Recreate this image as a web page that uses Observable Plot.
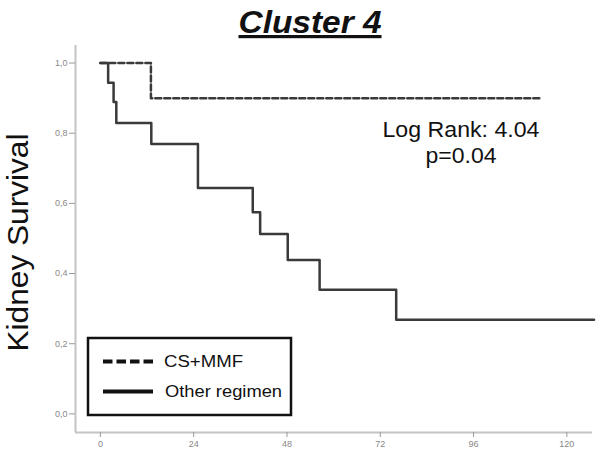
<!DOCTYPE html>
<html>
<head>
<meta charset="utf-8">
<script src="https://cdn.jsdelivr.net/npm/d3@7"></script>
<script src="https://cdn.jsdelivr.net/npm/@observablehq/plot@0.6"></script>
<style>
  body { margin: 0; background: #fff; font-family: "Liberation Sans", Arial, sans-serif; }
  #wrap { position: relative; width: 613px; height: 457px; }
  #overlay { position: absolute; left: 0; top: 0; pointer-events: none; }
</style>
</head>
<body>
<div id="wrap"></div>
<script>
// ---- Data ----
const titleText = "Cluster 4";
const yLabel = "Kidney Survival";
const seriesNames = ["CS+MMF", "Other regimen"];
const csMmfTime = [0, 13, 113];
const csMmfSurv = [1.0, 0.9, 0.9];
const otherTime = [0, 2, 3.4, 4.1, 13.1, 25.1, 39.2, 41.1, 48.2, 56.4, 76.1, 127];
const otherSurv = [1.0, 0.944, 0.889, 0.829, 0.769, 0.644, 0.575, 0.513, 0.439, 0.354, 0.268, 0.268];
const xTicks = [0, 24, 48, 72, 96, 120];
const yTicks = [0, 0.2, 0.4, 0.6, 0.8, 1.0];
const annotation = ["Log Rank: 4.04", "p=0.04"];
const xDomain = [-6.4, 126.6];
const yDomain = [-0.053, 1.05];

const csRows = csMmfTime.map((t, i) => ({t, s: csMmfSurv[i]}));
const otherRows = otherTime.map((t, i) => ({t, s: otherSurv[i]}));

const plot = Plot.plot({
  width: 613,
  height: 457,
  marginLeft: 75,
  marginRight: 21,
  marginTop: 45,
  marginBottom: 25,
  style: {fontFamily: "'Liberation Sans', Arial, sans-serif", background: "#fff"},
  x: {domain: xDomain},
  y: {domain: yDomain},
  marks: [
    Plot.ruleX([xDomain[0]], {stroke: "#c4c4c4", strokeWidth: 2}),
    Plot.ruleY([yDomain[0]], {stroke: "#c4c4c4", strokeWidth: 2}),
    Plot.axisY({ticks: yTicks, tickSize: 6, tickPadding: 2, fontSize: 9, stroke: "#999", fill: "#888",
      tickFormat: d => d.toFixed(1).replace(".", ","), label: null}),
    Plot.axisX({ticks: xTicks, tickSize: 5, tickPadding: 3, fontSize: 9, stroke: "#999", fill: "#888",
      tickFormat: d => String(d), label: null}),
    Plot.line(csRows, {x: "t", y: "s", curve: "step-after", stroke: "#3a3a3a", strokeWidth: 2.5,
      strokeDasharray: "6,3"}),
    Plot.line(otherRows, {x: "t", y: "s", curve: "step-after", stroke: "#3a3a3a", strokeWidth: 2.5})
  ]
});

const wrap = document.getElementById("wrap");
wrap.appendChild(plot);

// ---- Overlay: title, axis label, annotation, legend ----
const NS = "http://www.w3.org/2000/svg";
const ov = document.createElementNS(NS, "svg");
ov.setAttribute("id", "overlay");
ov.setAttribute("width", 613);
ov.setAttribute("height", 457);
function el(tag, attrs, text) {
  const e = document.createElementNS(NS, tag);
  for (const k in attrs) e.setAttribute(k, attrs[k]);
  if (text != null) e.textContent = text;
  ov.appendChild(e);
  return e;
}
const ff = "'Liberation Sans', Arial, sans-serif";
el("text", {x: 310, y: 33, "text-anchor": "middle", "font-family": ff, "font-size": 32,
  "font-weight": "bold", "font-style": "italic", "text-decoration": "underline", fill: "#111",
  textLength: 143, lengthAdjust: "spacingAndGlyphs"}, titleText);
el("text", {transform: "translate(28,242.5) rotate(-90)", "text-anchor": "middle", "font-family": ff,
  "font-size": 29.5, fill: "#111", textLength: 218, lengthAdjust: "spacingAndGlyphs"}, yLabel);
el("text", {x: 461, y: 137, "text-anchor": "middle", "font-family": ff, "font-size": 21.5, fill: "#111",
  textLength: 157, lengthAdjust: "spacingAndGlyphs"}, annotation[0]);
el("text", {x: 461, y: 163, "text-anchor": "middle", "font-family": ff, "font-size": 21.5, fill: "#111",
  textLength: 71, lengthAdjust: "spacingAndGlyphs"}, annotation[1]);
// legend
el("rect", {x: 88, y: 338, width: 203, height: 77, fill: "#fff", stroke: "#111", "stroke-width": 2.5});
el("line", {x1: 103, x2: 153, y1: 361.5, y2: 361.5, stroke: "#111", "stroke-width": 4, "stroke-dasharray": "9.5,4"});
el("line", {x1: 103, x2: 153, y1: 391.5, y2: 391.5, stroke: "#111", "stroke-width": 4});
el("text", {x: 164, y: 367, "font-family": ff, "font-size": 16, fill: "#111",
  textLength: 79, lengthAdjust: "spacingAndGlyphs"}, seriesNames[0]);
el("text", {x: 165, y: 397, "font-family": ff, "font-size": 16, fill: "#111",
  textLength: 117, lengthAdjust: "spacingAndGlyphs"}, seriesNames[1]);
wrap.appendChild(ov);
</script>
</body>
</html>
